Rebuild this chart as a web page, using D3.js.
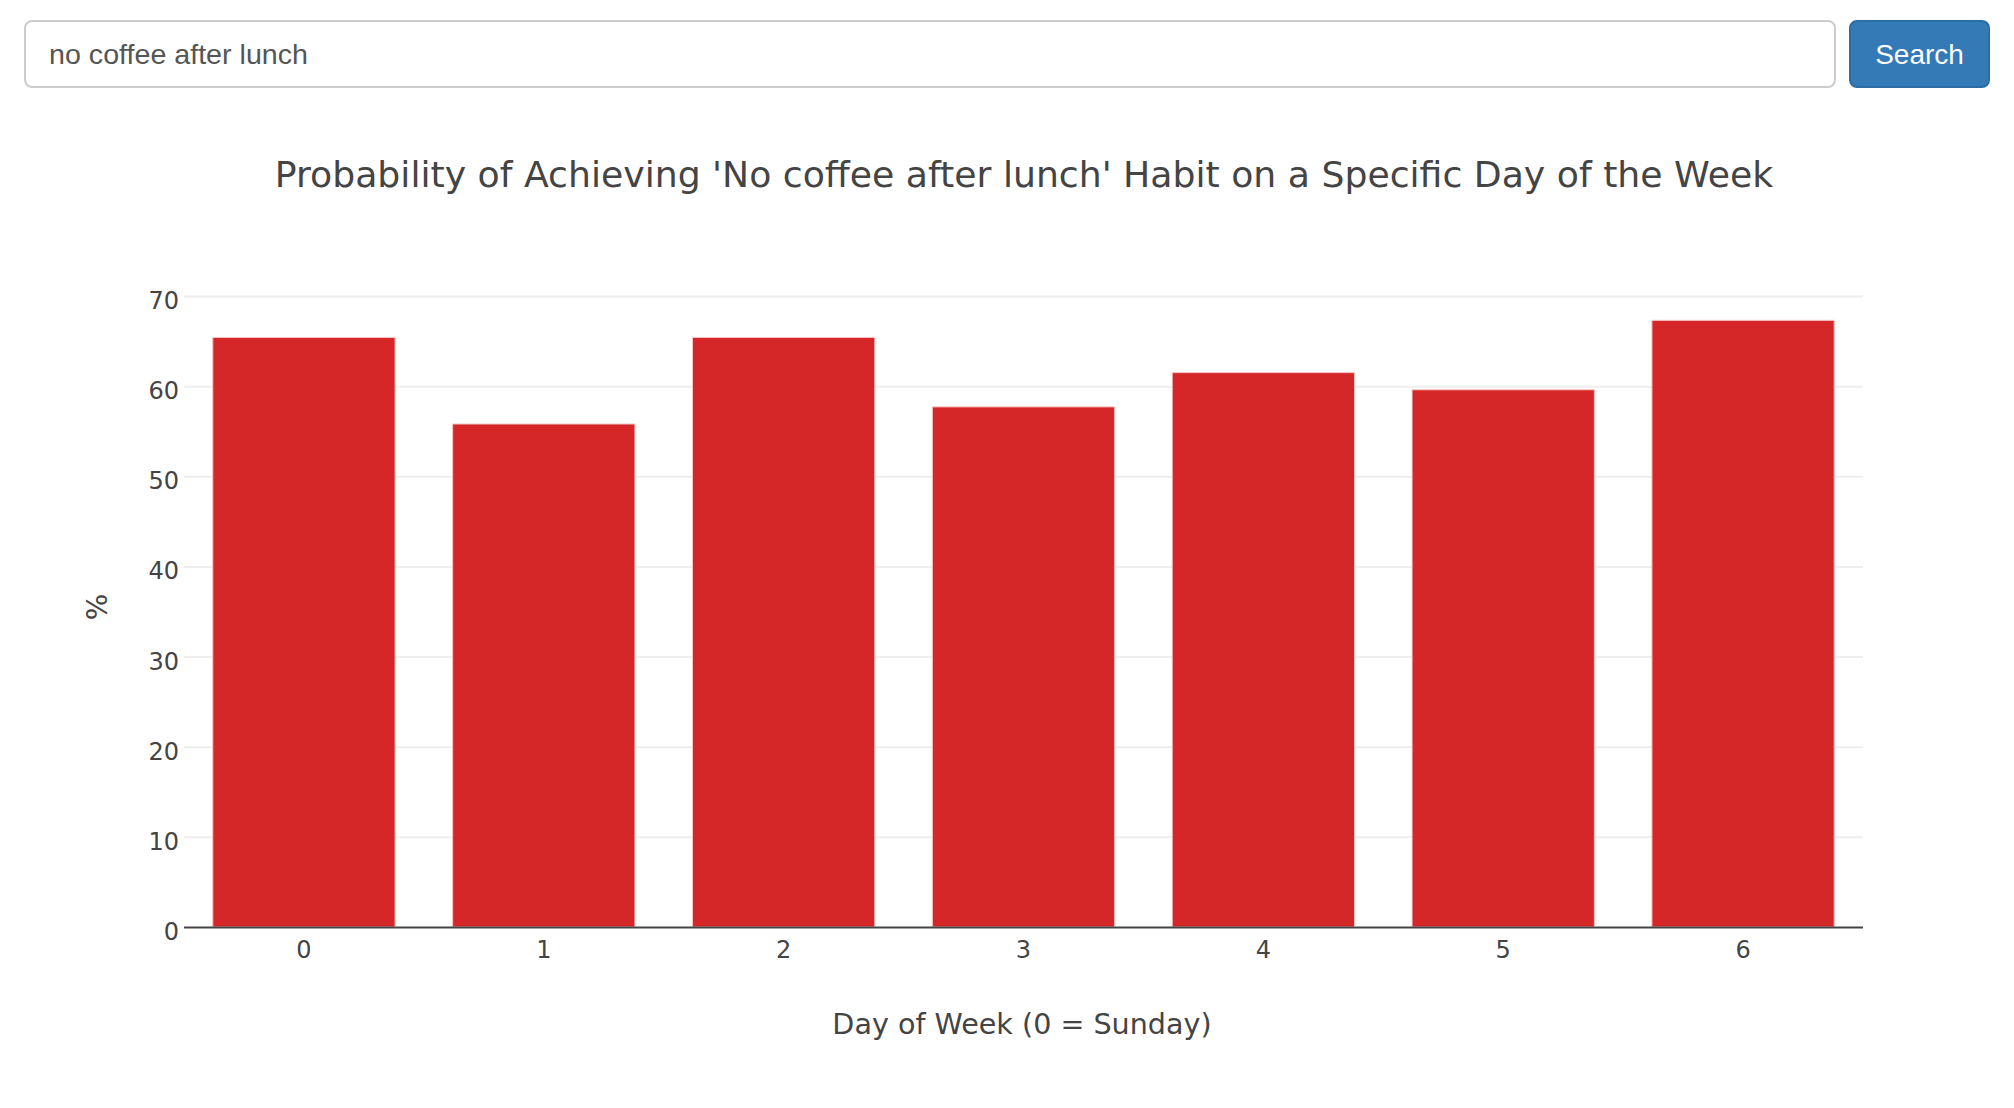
<!DOCTYPE html>
<html>
<head>
<meta charset="utf-8">
<script src="https://cdn.jsdelivr.net/npm/d3@7"></script>
<style>
  html, body { margin: 0; padding: 0; background: #fff; }
  svg { display: block; }
</style>
</head>
<body>
<svg id="chart" width="2014" height="1108"></svg>
<script>
// ---- data ----
const categories = ["0", "1", "2", "3", "4", "5", "6"];
const values = [65.4, 55.8, 65.4, 57.7, 61.5, 59.6, 67.3];
const yTicks = [0, 10, 20, 30, 40, 50, 60, 70];
const titleText = "Probability of Achieving 'No coffee after lunch' Habit on a Specific Day of the Week";
const xTitle = "Day of Week (0 = Sunday)";
const yTitle = "%";
const searchText = "no coffee after lunch";
const buttonText = "Search";

// ---- layout ----
const svg = d3.select("#chart");
const W = 2014, H = 1108;
const plot = { left: 184, right: 1863, top: 296, bottom: 927 };
const textColor = "#444";
const font = "'DejaVu Sans', Verdana, sans-serif";

svg.append("rect").attr("width", W).attr("height", H).attr("fill", "#fff");

// search box
svg.append("rect")
  .attr("x", 25).attr("y", 21).attr("width", 1810).attr("height", 66)
  .attr("rx", 7).attr("ry", 7)
  .attr("fill", "#fff").attr("stroke", "#ccc").attr("stroke-width", 2);
svg.append("text")
  .attr("x", 49).attr("y", 64)
  .attr("font-family", "'Liberation Sans', Arial, sans-serif")
  .attr("font-size", 28)
  .attr("fill", "#555")
  .attr("textLength", 259).attr("lengthAdjust", "spacingAndGlyphs")
  .text(searchText);

// button
svg.append("rect")
  .attr("x", 1850).attr("y", 21).attr("width", 139).attr("height", 66)
  .attr("rx", 7).attr("ry", 7)
  .attr("fill", "#337ab7").attr("stroke", "#2e6da4").attr("stroke-width", 2);
svg.append("text")
  .attr("x", 1919.5).attr("y", 64)
  .attr("text-anchor", "middle")
  .attr("font-family", "'Liberation Sans', Arial, sans-serif")
  .attr("font-size", 28)
  .attr("fill", "#fff")
  .text(buttonText);

// scales
const x = d3.scaleBand()
  .domain(categories)
  .range([plot.left, plot.right])
  .paddingInner(0.24)
  .paddingOuter(0.12);
const y = d3.scaleLinear()
  .domain([0, 70])
  .range([plot.bottom, plot.top]);

// gridlines
const grid = svg.append("g")
  .attr("transform", `translate(${plot.left},0)`)
  .call(d3.axisLeft(y).tickValues(yTicks.filter(d => d !== 0)).tickSize(-(plot.right - plot.left)).tickFormat(""));
grid.select(".domain").remove();
grid.selectAll(".tick line").attr("stroke", "#eee").attr("stroke-width", 2);

// bars
svg.append("g").selectAll("rect")
  .data(values)
  .join("rect")
  .attr("x", (d, i) => x(categories[i]))
  .attr("width", x.bandwidth())
  .attr("y", d => y(d))
  .attr("height", d => y(0) - y(d))
  .attr("fill", "#d62728")
  .attr("stroke", "#f4c6c6")
  .attr("stroke-width", 1);

// y axis labels
const yAxis = svg.append("g")
  .attr("transform", `translate(${plot.left},0)`)
  .call(d3.axisLeft(y).tickValues(yTicks).tickSize(0).tickPadding(5));
yAxis.select(".domain").remove();
yAxis.selectAll(".tick text")
  .attr("font-family", font).attr("font-size", 24).attr("fill", textColor)
  .attr("dy", "0.52em");

// x axis
const xAxis = svg.append("g")
  .attr("transform", `translate(0,${plot.bottom})`)
  .call(d3.axisBottom(x).tickSize(0).tickPadding(14));
xAxis.select(".domain").attr("stroke", textColor).attr("stroke-width", 2)
  .attr("d", `M${plot.left},0.5H${plot.right}`);
xAxis.selectAll(".tick text")
  .attr("font-family", font).attr("font-size", 24).attr("fill", textColor);

// titles
svg.append("text")
  .attr("x", 1024).attr("y", 187)
  .attr("text-anchor", "middle")
  .attr("font-family", font).attr("font-size", 36.2).attr("fill", textColor)
  .text(titleText);

svg.append("text")
  .attr("x", 1022).attr("y", 1034)
  .attr("text-anchor", "middle")
  .attr("font-family", font).attr("font-size", 28.6).attr("fill", textColor)
  .text(xTitle);

svg.append("text")
  .attr("transform", "translate(107,607) rotate(-90)")
  .attr("text-anchor", "middle")
  .attr("font-family", font).attr("font-size", 28).attr("fill", textColor)
  .text(yTitle);
</script>
</body>
</html>
